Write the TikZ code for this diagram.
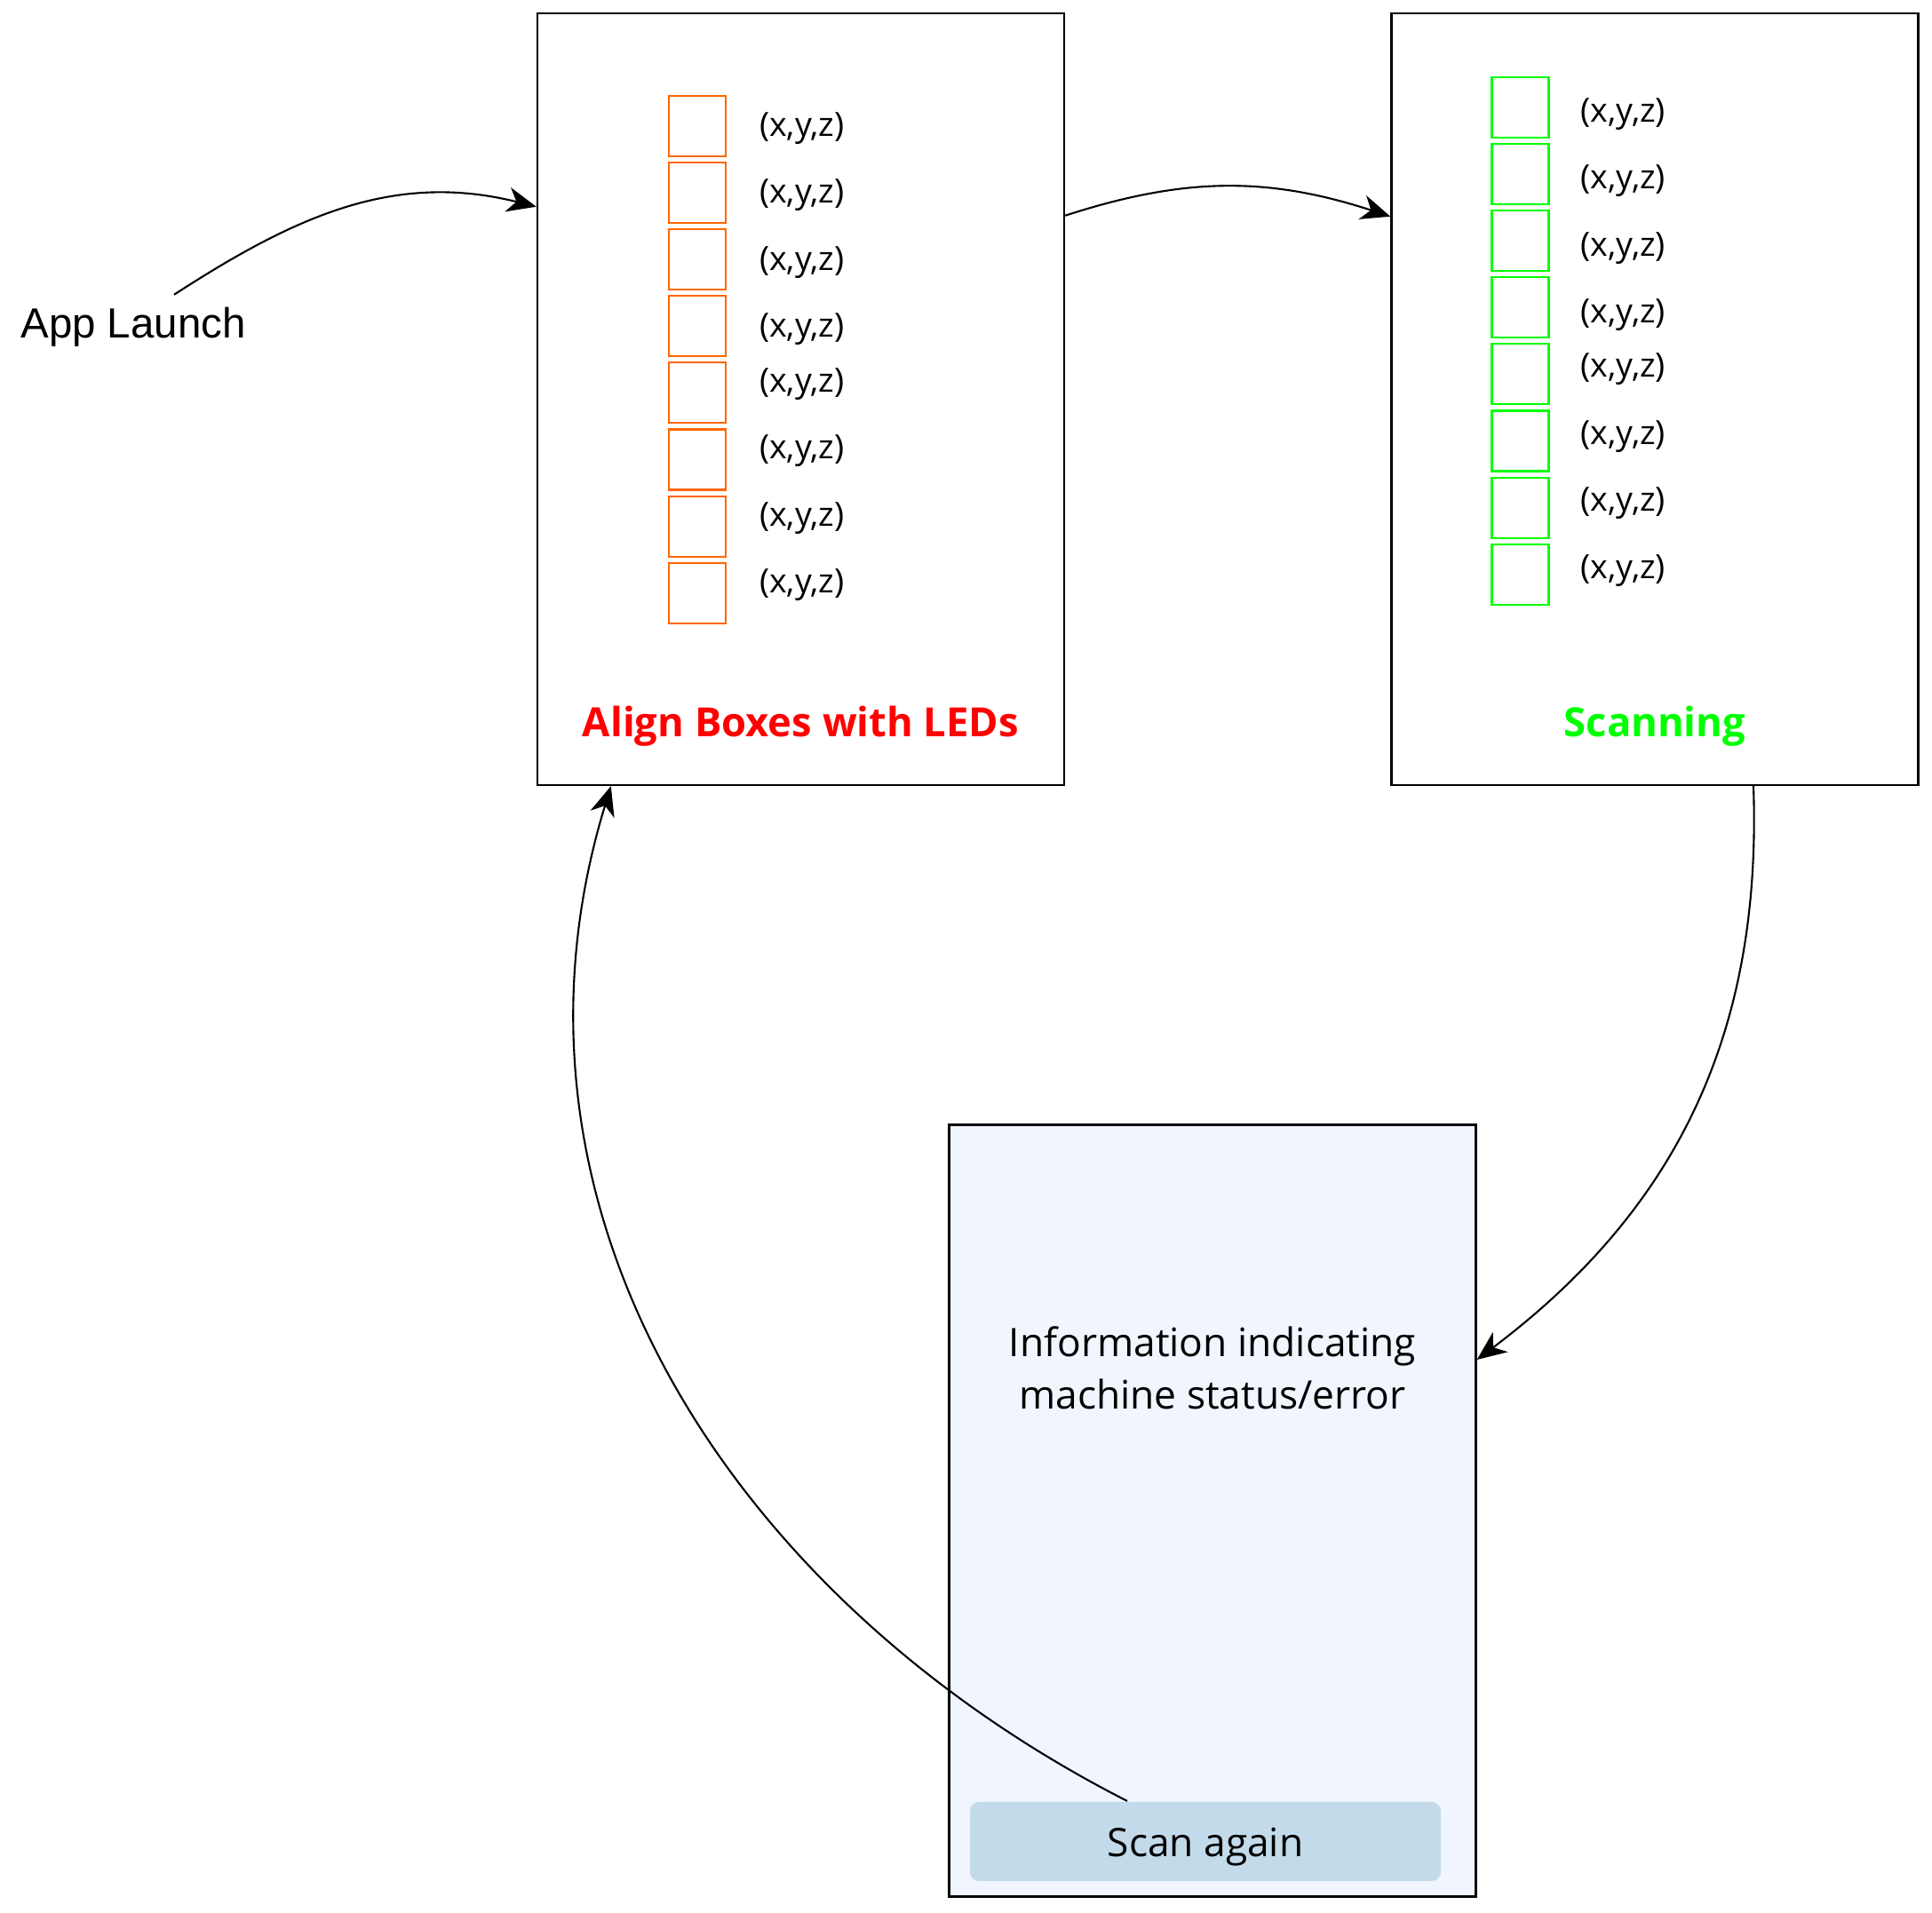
\documentclass[tikz,border=0pt]{standalone}
\usepackage{fontspec}
\setmainfont{Open Sans}
\newfontfamily\launchfont{Liberation Sans}
\usetikzlibrary{arrows.meta,positioning}
\definecolor{ledorange}{HTML}{FF6600}
\definecolor{ledgreen}{HTML}{00FF00}
\definecolor{infofill}{HTML}{F1F5FD}
\definecolor{btnfill}{HTML}{C3DAEA}

\begin{document}
\begin{tikzpicture}[node distance=0.05cm,line width=0.6pt,
  screen/.style={draw,line width=0.7pt,minimum width=5.93cm,minimum height=8.69cm,inner sep=0pt},
  led/.style={draw=#1,minimum width=0.64cm,minimum height=0.68cm,inner sep=0pt},
  xyz/.style={font=\fontsize{10.7}{13}\selectfont,inner sep=0pt,anchor=west},
  title/.style={font=\fontsize{12.9}{15}\selectfont\bfseries,inner sep=0pt},
  >={Stealth[length=3.3mm,width=2.8mm,inset=1mm]}]
\fill[white] (0,0) rectangle (21.75,21.54);
\useasboundingbox (0,0) rectangle (21.75,21.54);

\node[screen] (a) at (9.015,17.045) {};
\node[screen] (s) at (18.63,17.045) {};
\node[screen,fill=infofill] (i) at (13.65,4.53) {};

% LED boxes while aligning
\node[led=ledorange] (o1) at (7.85,20.12) {};
\foreach \i [count=\j from 2] in {1,...,7}
  \node[led=ledorange,below=of o\i] (o\j) {};
\foreach \i/\dy in {1/-0.3,2/-0.3,3/-0.3,4/-0.3,5/1.0,6/1.0,7/0.9,8/0.9}
  \node[xyz] (ol\i) at ([xshift=3.6mm,yshift=\dy mm]o\i.east) {(x,y,z)};

% LED boxes while scanning
\node[led=ledgreen] (g1) at (17.115,20.33) {};
\foreach \i [count=\j from 2] in {1,...,7}
  \node[led=ledgreen,below=of g\i] (g\j) {};
\foreach \i/\dy in {1/-0.75,2/-0.8,3/-0.8,4/-0.8,5/0.6,6/0.5,7/0.5,8/0.4}
  \node[xyz] (gl\i) at ([xshift=3.4mm,yshift=\dy mm]g\i.east) {(x,y,z)};

\node[title,text=red] (at) at ([yshift=6.7mm]a.south) {Align Boxes with LEDs};
\node[title,text=ledgreen] (st) at ([yshift=6.7mm]s.south) {Scanning};

\node[font=\fontsize{12.6}{16.7}\selectfont,align=center] (msg) at ([yshift=-2.75cm]i.north) {Information indicating\\machine status/error};
\node[fill=btnfill,rounded corners=1mm,minimum width=5.3cm,minimum height=0.89cm,text height=1.21em,text depth=0.24em,font=\fontsize{12.6}{15}\selectfont] (btn) at (13.57,0.805) {Scan again};

\node[font=\launchfont\fontsize{13.5}{16}\selectfont,inner sep=0pt] (launch) at (1.50,17.86) {App Launch};

\draw[->] ([shift={(4.6mm,1.3mm)}]launch.north) to[out=33,in=166] ([yshift=-2.19cm]a.north west);
\draw[->] ([yshift=-2.29cm]a.north east) to[out=18,in=162] ([yshift=-2.3cm]s.north west);
\draw[->] ([xshift=11.1mm]s.south) to[out=-88,in=37] ([yshift=17mm]i.east);
\draw[->] ([xshift=-8.8mm]btn.north) to[out=153,in=253] ([xshift=8.4mm]a.south west);
\end{tikzpicture}
\end{document}
